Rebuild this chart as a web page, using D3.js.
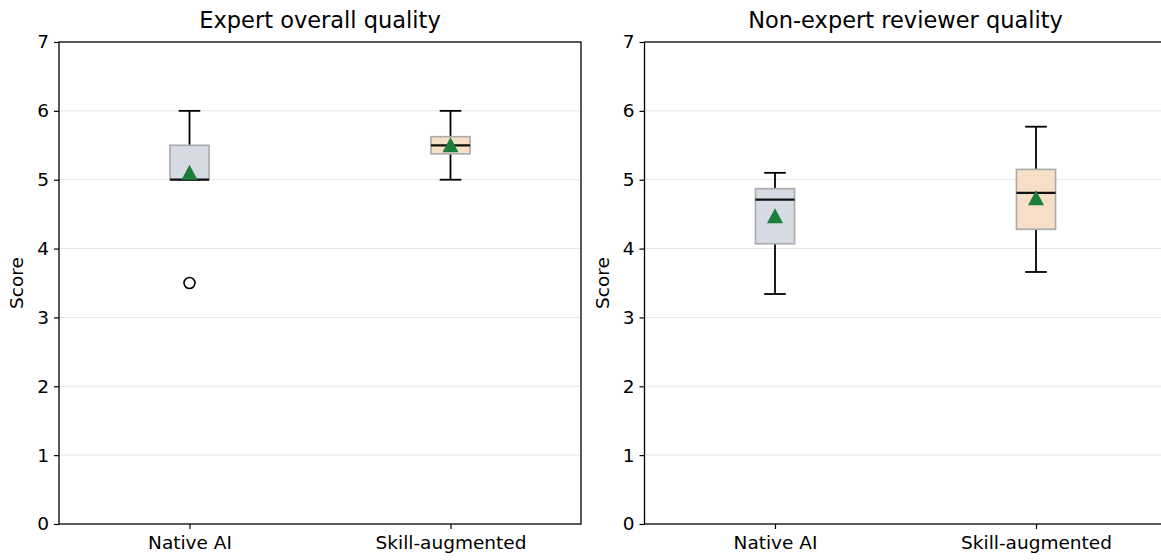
<!DOCTYPE html>
<html>
<head>
<meta charset="utf-8">
<script src="https://cdnjs.cloudflare.com/ajax/libs/d3/7.8.5/d3.min.js"></script>
<style>
  body { margin: 0; background: #fff; }
  text { font-family: "DejaVu Sans", sans-serif; fill: #000; }
</style>
</head>
<body>
<script>
// data
var categories = ['Native AI', 'Skill-augmented'];
var panelTitles = ['Expert overall quality', 'Non-expert reviewer quality'];
var yTicks = [0, 1, 2, 3, 4, 5, 6, 7];

var expertLow = [5, 5];
var expertQ1 = [5, 5.375];
var expertMedian = [5, 5.5];
var expertQ3 = [5.5, 5.625];
var expertHigh = [6, 6];
var expertMean = [5.1, 5.5];
var expertOutliers = [[3.5], []];

var reviewerLow = [3.34, 3.66];
var reviewerQ1 = [4.07, 4.28];
var reviewerMedian = [4.71, 4.81];
var reviewerQ3 = [4.87, 5.15];
var reviewerHigh = [5.1, 5.77];
var reviewerMean = [4.47, 4.73];
var reviewerOutliers = [[], []];

var boxFills = ['#d5dae3', '#f6dfc6'];

var svg = d3.select('body')
    .append('svg')
    .attr('width', 1161)
    .attr('height', 560);

var panels = [
  { x0: 59, title: panelTitles[0], low: expertLow, q1: expertQ1, med: expertMedian, q3: expertQ3, high: expertHigh, mean: expertMean, out: expertOutliers },
  { x0: 644.5, title: panelTitles[1], low: reviewerLow, q1: reviewerQ1, med: reviewerMedian, q3: reviewerQ3, high: reviewerHigh, mean: reviewerMean, out: reviewerOutliers }
];

var plotW = 522, plotTop = 42, plotBottom = 524;
var boxW = 0.15;

panels.forEach(function(p) {
  var g = svg.append('g');
  var x = d3.scaleLinear().domain([0.5, 2.5]).range([p.x0, p.x0 + plotW]);
  var y = d3.scaleLinear().domain([0, 7]).range([plotBottom, plotTop]);

  // grid
  g.selectAll('line.grid')
    .data(yTicks.slice(1, -1))
    .enter().append('line')
    .attr('x1', p.x0).attr('x2', p.x0 + plotW)
    .attr('y1', function(d) { return y(d); })
    .attr('y2', function(d) { return y(d); })
    .attr('stroke', '#e6e6e6')
    .attr('stroke-width', 1);

  var stats = categories.map(function(c, i) {
    return { pos: i + 1, low: p.low[i], q1: p.q1[i], med: p.med[i], q3: p.q3[i], high: p.high[i], mean: p.mean[i], out: p.out[i], fill: boxFills[i] };
  });

  var half = x(1 + boxW / 2) - x(1);
  var cap = half / 2 + 1;

  var b = g.selectAll('g.box').data(stats).enter().append('g');

  // whiskers
  b.append('line')
    .attr('x1', function(d) { return x(d.pos); }).attr('x2', function(d) { return x(d.pos); })
    .attr('y1', function(d) { return y(d.high); }).attr('y2', function(d) { return y(d.q3); })
    .attr('stroke', '#000').attr('stroke-width', 1.8);
  b.append('line')
    .attr('x1', function(d) { return x(d.pos); }).attr('x2', function(d) { return x(d.pos); })
    .attr('y1', function(d) { return y(d.low); }).attr('y2', function(d) { return y(d.q1); })
    .attr('stroke', '#000').attr('stroke-width', 1.8);
  // caps
  b.append('line')
    .attr('x1', function(d) { return x(d.pos) - cap; }).attr('x2', function(d) { return x(d.pos) + cap; })
    .attr('y1', function(d) { return y(d.high); }).attr('y2', function(d) { return y(d.high); })
    .attr('stroke', '#000').attr('stroke-width', 1.8);
  b.append('line')
    .attr('x1', function(d) { return x(d.pos) - cap; }).attr('x2', function(d) { return x(d.pos) + cap; })
    .attr('y1', function(d) { return y(d.low); }).attr('y2', function(d) { return y(d.low); })
    .attr('stroke', '#000').attr('stroke-width', 1.8);
  // box
  b.append('rect')
    .attr('x', function(d) { return x(d.pos) - half; })
    .attr('width', half * 2)
    .attr('y', function(d) { return y(d.q3); })
    .attr('height', function(d) { return Math.max(0, y(d.q1) - y(d.q3)); })
    .attr('fill', function(d) { return d.fill; })
    .attr('stroke', '#aaaaaa').attr('stroke-width', 1.6);
  // median
  b.append('line')
    .attr('x1', function(d) { return x(d.pos) - half; }).attr('x2', function(d) { return x(d.pos) + half; })
    .attr('y1', function(d) { return y(d.med); }).attr('y2', function(d) { return y(d.med); })
    .attr('stroke', '#111').attr('stroke-width', 2.2);
  // mean marker
  b.append('path')
    .attr('d', function(d) {
      var cx = x(d.pos), cy = y(d.mean);
      return 'M' + (cx - 8) + ',' + (cy + 7) + 'L' + (cx + 8) + ',' + (cy + 7) + 'L' + cx + ',' + (cy - 8) + 'Z';
    })
    .attr('fill', '#1b7f3b');
  // outliers
  b.selectAll('circle')
    .data(function(d) { return d.out.map(function(v) { return { pos: d.pos, v: v }; }); })
    .enter().append('circle')
    .attr('cx', function(d) { return x(d.pos); })
    .attr('cy', function(d) { return y(d.v); })
    .attr('r', 5.5)
    .attr('fill', 'none')
    .attr('stroke', '#000').attr('stroke-width', 1.6);

  // axes
  var ya = g.append('g').attr('transform', 'translate(' + p.x0 + ',0)')
    .call(d3.axisLeft(y).tickValues(yTicks).tickFormat(d3.format('d')).tickSize(5).tickPadding(5));
  var xa = g.append('g').attr('transform', 'translate(0,' + plotBottom + ')')
    .call(d3.axisBottom(x).tickValues([1, 2]).tickFormat(function(d) { return categories[d - 1]; }).tickSize(5).tickPadding(7));
  [ya, xa].forEach(function(a) {
    a.select('.domain').remove();
    a.selectAll('line').attr('stroke', '#000').attr('stroke-width', 1.2);
    a.selectAll('text').attr('font-size', 18.5).attr('font-family', '"DejaVu Sans", sans-serif').attr('fill', '#000');
  });

  // frame
  g.append('rect')
    .attr('x', p.x0).attr('y', plotTop)
    .attr('width', plotW).attr('height', plotBottom - plotTop)
    .attr('fill', 'none').attr('stroke', '#000').attr('stroke-width', 1.3);

  g.append('text')
    .attr('x', p.x0 + plotW / 2).attr('y', 28)
    .attr('text-anchor', 'middle')
    .attr('font-size', 22.5)
    .text(p.title);

  g.append('text')
    .attr('transform', 'translate(' + (p.x0 - 36) + ',' + ((plotTop + plotBottom) / 2) + ') rotate(-90)')
    .attr('text-anchor', 'middle')
    .attr('font-size', 18.5)
    .text('Score');
});
</script>
</body>
</html>
